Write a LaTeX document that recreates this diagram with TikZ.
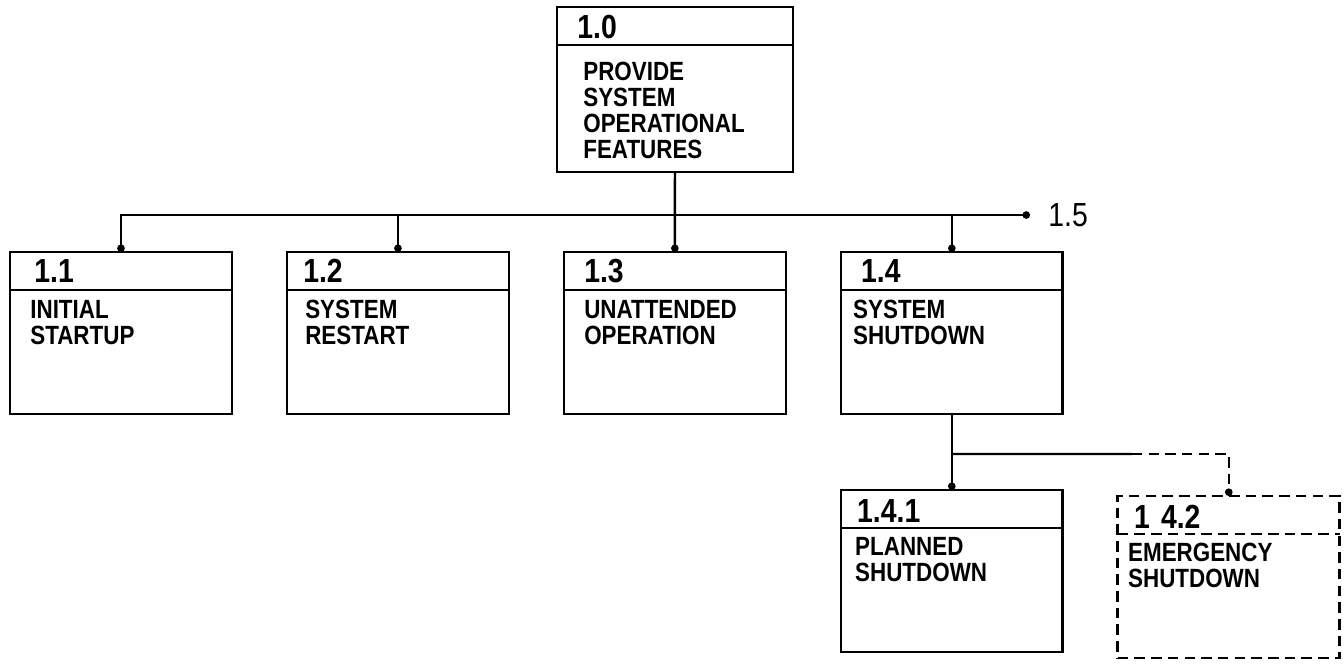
\documentclass[tikz,border=0pt]{standalone}
\usepackage{fontspec}
\newfontfamily\boxfont[FakeStretch=0.85]{Liberation Sans}
\usetikzlibrary{arrows.meta,positioning,calc}

\begin{document}
\begin{tikzpicture}[
    x=0.02cm, y=-0.02cm,
    fbox/.style={draw, line width=1.5pt, minimum width=4.44cm, minimum height=3.24cm,
                 inner sep=0pt, outer sep=0pt},
    hdr/.style={anchor=base west, inner sep=0pt, font=\boxfont\bfseries\fontsize{19}{19}\selectfont},
    txt/.style={anchor=north west, align=left, inner sep=0pt,
                font=\boxfont\bfseries\fontsize{15}{14.8}\selectfont},
    link/.style={line width=1.4pt, -{Circle[length=1.5mm]}},
    longdash/.style={dash pattern=on 6pt off 3.5pt}
]
\useasboundingbox (0,0) rectangle (1344,664);

% top level
\node[fbox, anchor=north west, minimum width=4.72cm, minimum height=3.3cm] (b10) at (557,7) {};

% second level
\node[fbox, anchor=north west] (b11) at (10,252) {};
\node[fbox, right=1.1cm of b11] (b12) {};
\node[fbox, right=1.1cm of b12] (b13) {};
\node[fbox, right=1.1cm of b13] (b14) {};

% third level
\node[fbox, below=1.52cm of b14] (b141) {};
\node[fbox, longdash, right=1.1cm of b141, yshift=-0.12cm] (b142) {};

\foreach \b in {b10,b11,b12,b13,b14,b141}
    \draw[line width=1.2pt] ($(\b.north west)+(0,38)$) -- ($(\b.north east)+(0,38)$);
\draw[line width=1.2pt, longdash] ($(b142.north west)+(0,38)$) -- ($(b142.north east)+(0,38)$);

\node[hdr] (b10n) at ($(b10.north west)+(20,31)$) {1.0};
\node[txt] (b10t) at ($(b10.north west)+(26,55)$) {PROVIDE\\SYSTEM\\OPERATIONAL\\FEATURES};
\node[hdr] (b11n) at ($(b11.north west)+(24,30)$) {1.1};
\node[txt] (b11t) at ($(b11.north west)+(20,48)$) {INITIAL\\STARTUP};
\node[hdr] (b12n) at ($(b12.north west)+(16,30)$) {1.2};
\node[txt] (b12t) at ($(b12.north west)+(18,48)$) {SYSTEM\\RESTART};
\node[hdr] (b13n) at ($(b13.north west)+(20,30)$) {1.3};
\node[txt] (b13t) at ($(b13.north west)+(20,48)$) {UNATTENDED\\OPERATION};
\node[hdr] (b14n) at ($(b14.north west)+(20,30)$) {1.4};
\node[txt] (b14t) at ($(b14.north west)+(12,48)$) {SYSTEM\\SHUTDOWN};
\node[hdr] (b141n) at ($(b141.north west)+(16,33)$) {1.4.1};
\node[txt] (b141t) at ($(b141.north west)+(14,47)$) {PLANNED\\SHUTDOWN};
\node[hdr] (b142n) at ($(b142.north west)+(16,33)$) {1\,\,4.2};
\node[txt] (b142t) at ($(b142.north west)+(10,47)$) {EMERGENCY\\SHUTDOWN};

% bus to second level and 1.5
\coordinate (n15) at (1030,215);
\node[anchor=west, inner sep=0pt, font=\boxfont\fontsize{19}{19}\selectfont] (l15) at ($(n15)+(18,0)$) {1.5};
\draw[line width=1.4pt, {Circle[length=1.5mm]}-{Circle[length=1.5mm]}] (n15) -| (b11.north);
\draw[link] (b10.south) -- (b13.north);
\draw[link] (b12.north |- n15) -- (b12.north);
\draw[link] (b14.north |- n15) -- (b14.north);

% branch below 1.4
\coordinate (j14) at ($(b14.south)+(0,40)$);
\coordinate (j142) at (b142.north |- j14);
\coordinate (split) at ($(j14)!0.65!(j142)$);
\draw[link] (b14.south) -- (b141.north);
\draw[line width=1.4pt] (j14) -- (split);
\draw[link, longdash] (split) -| (b142.north);
\end{tikzpicture}
\end{document}
